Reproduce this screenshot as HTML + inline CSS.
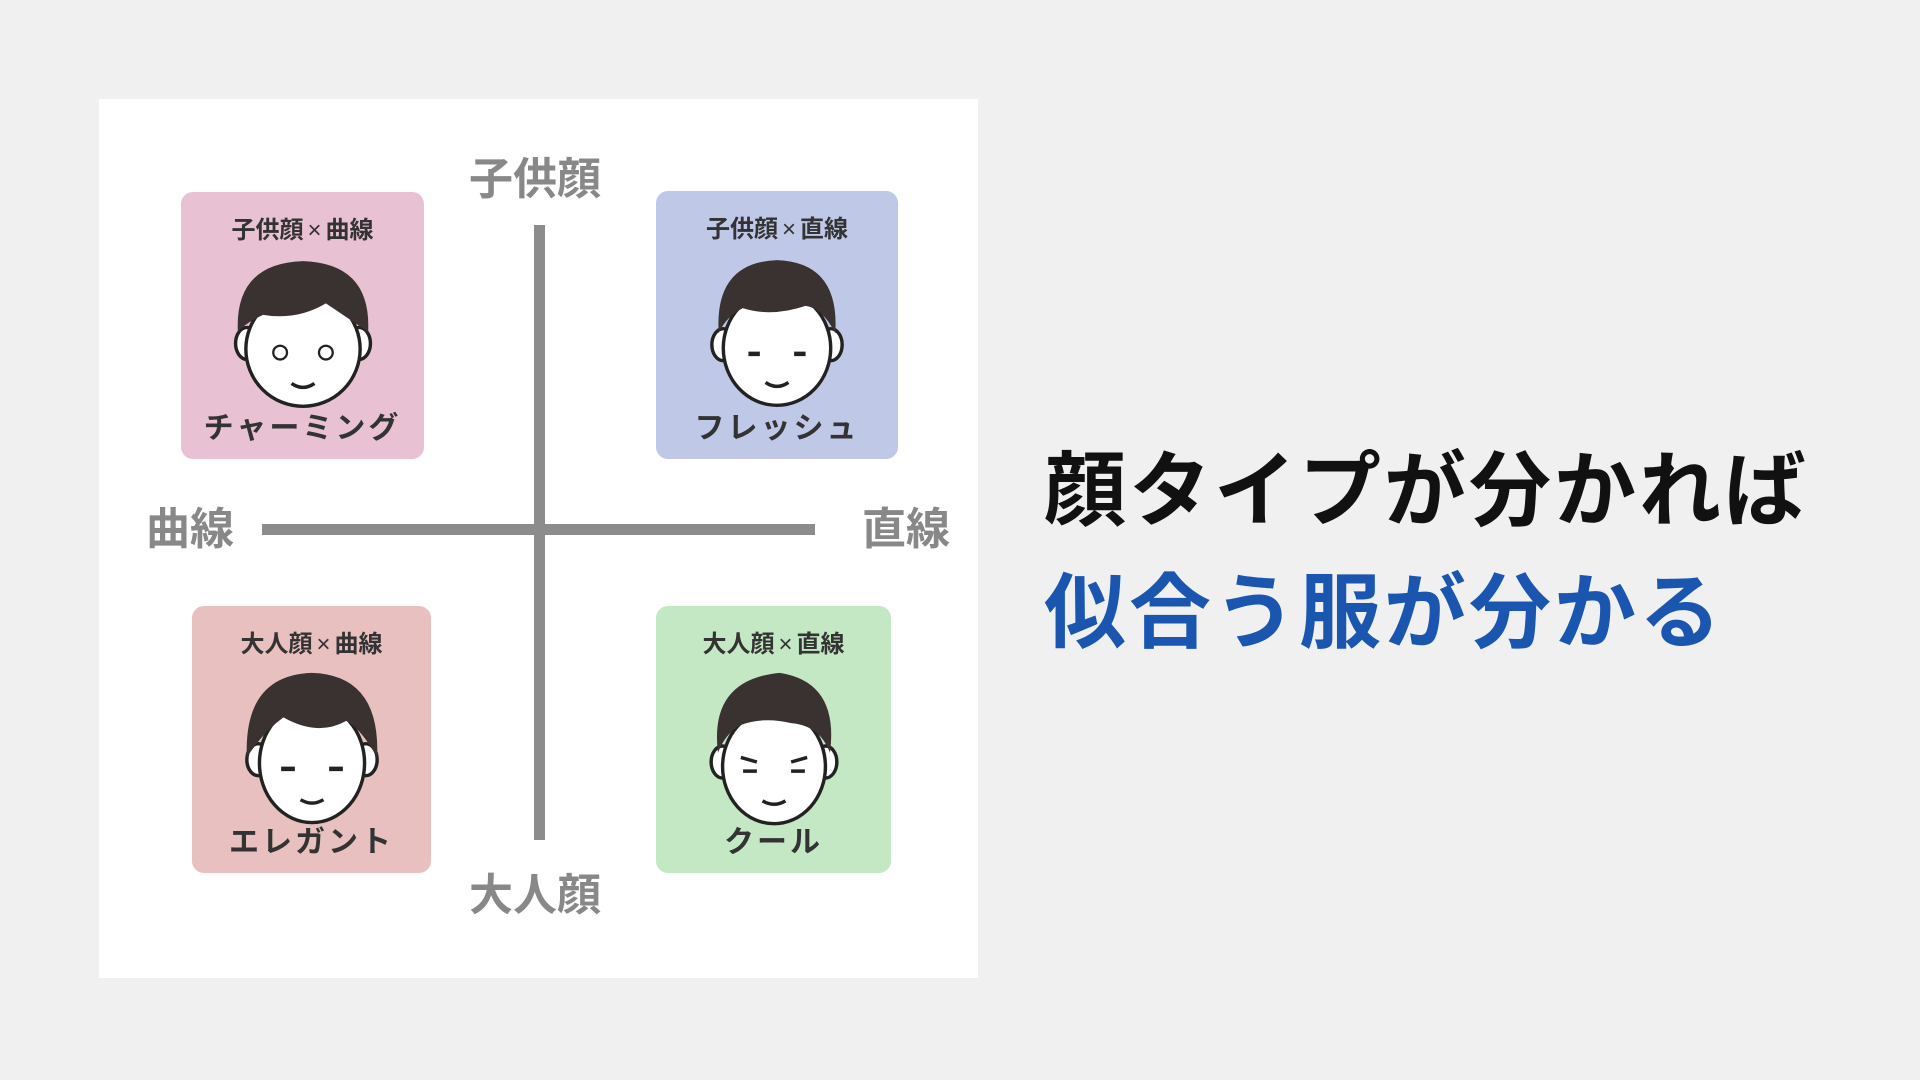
<!DOCTYPE html>
<html><head><meta charset="utf-8"><style>
*{margin:0;padding:0;box-sizing:border-box}
body{width:1920px;height:1080px;background:#f0f0f0;position:relative;overflow:hidden;font-family:"Liberation Sans","Noto Sans CJK JP",sans-serif}
.panel{position:absolute;left:99px;top:99px;width:879px;height:879px;background:#fff}
.card{position:absolute;border-radius:12px}
.card .t{position:absolute;left:0;right:0;top:18px;text-align:center;font-size:24px;font-weight:bold;color:#333}
.card .t span{font-weight:normal;margin:0 4px}
.card .n{position:absolute;left:0;right:0;bottom:12px;text-align:center;font-size:30px;font-weight:bold;color:#333;letter-spacing:3px}
.card svg{position:absolute;left:50%;top:60px;margin-left:-75px}
.ax{position:absolute;font-size:44px;font-weight:bold;color:#888;line-height:1}
.h{position:absolute;left:1044px;font-size:82px;font-weight:bold;line-height:1;letter-spacing:3px}
</style></head><body>
<div class="panel"></div>
<div style="position:absolute;left:534px;top:225px;width:11px;height:615px;background:#8c8c8c"></div>
<div style="position:absolute;left:262px;top:524px;width:553px;height:11px;background:#8c8c8c"></div>
<div class="ax" style="left:469px;top:158px">子供顔</div>
<div class="ax" style="left:469px;top:874px">大人顔</div>
<div class="ax" style="left:146px;top:508px">曲線</div>
<div class="ax" style="left:862px;top:508px">直線</div>

<div class="card" style="left:181px;top:192px;width:243px;height:267px;background:#e8c1d3">
<div class="t">子供顔<span>×</span>曲線</div>
<svg width="150" height="160" viewBox="0 0 130 140"><ellipse cx="16" cy="80" rx="10" ry="14" fill="#fff" stroke="#222" stroke-width="3"/><ellipse cx="114" cy="80" rx="10" ry="14" fill="#fff" stroke="#222" stroke-width="3"/><ellipse cx="65" cy="85" rx="50" ry="50" fill="#fff" stroke="#222" stroke-width="3"/><path d="M8 70 Q5 10 65 8 Q125 10 122 70 Q100 55 85 45 Q60 60 30 55 Q15 62 8 70Z" fill="#3a3131"/><circle cx="45" cy="88" r="6" fill="none" stroke="#222" stroke-width="2"/><circle cx="85" cy="88" r="6" fill="none" stroke="#222" stroke-width="2"/><path d="M55 115 Q65 122 75 115" stroke="#222" stroke-width="3" fill="none"/></svg>
<div class="n">チャーミング</div></div>

<div class="card" style="left:656px;top:191px;width:242px;height:268px;background:#c0c8e8">
<div class="t">子供顔<span>×</span>直線</div>
<svg width="150" height="160" viewBox="0 0 130 140"><ellipse cx="18" cy="82" rx="10" ry="14" fill="#fff" stroke="#222" stroke-width="3"/><ellipse cx="112" cy="82" rx="10" ry="14" fill="#fff" stroke="#222" stroke-width="3"/><ellipse cx="65" cy="85" rx="47" ry="50" fill="#fff" stroke="#222" stroke-width="3"/><path d="M14 72 Q10 10 65 8 Q120 10 116 72 Q105 50 90 48 Q60 58 35 50 Q20 58 14 72Z" fill="#3a3131"/><path d="M40 90 h10 M80 90 h10" stroke="#222" stroke-width="4"/><path d="M55 115 Q65 122 75 115" stroke="#222" stroke-width="3" fill="none"/></svg>
<div class="n">フレッシュ</div></div>

<div class="card" style="left:192px;top:606px;width:239px;height:267px;background:#e8c0c0">
<div class="t">大人顔<span>×</span>曲線</div>
<svg width="150" height="160" viewBox="0 0 130 140"><ellipse cx="18" cy="82" rx="10" ry="14" fill="#fff" stroke="#222" stroke-width="3"/><ellipse cx="112" cy="82" rx="10" ry="14" fill="#fff" stroke="#222" stroke-width="3"/><ellipse cx="65" cy="85" rx="46" ry="52" fill="#fff" stroke="#222" stroke-width="3"/><path d="M8 80 Q5 8 65 6 Q125 8 122 80 Q108 55 95 48 Q70 62 40 45 Q22 58 8 80Z" fill="#3a3131"/><path d="M38 90 h12 M80 90 h12" stroke="#222" stroke-width="4"/><path d="M55 117 Q65 123 75 117" stroke="#222" stroke-width="3" fill="none"/></svg>
<div class="n">エレガント</div></div>

<div class="card" style="left:656px;top:606px;width:235px;height:267px;background:#c4e8c4">
<div class="t">大人顔<span>×</span>直線</div>
<svg width="150" height="160" viewBox="0 0 130 140"><ellipse cx="20" cy="84" rx="10" ry="14" fill="#fff" stroke="#222" stroke-width="3"/><ellipse cx="110" cy="84" rx="10" ry="14" fill="#fff" stroke="#222" stroke-width="3"/><ellipse cx="65" cy="88" rx="45" ry="50" fill="#fff" stroke="#222" stroke-width="3"/><path d="M16 76 Q8 12 70 6 Q122 14 114 76 Q105 52 80 50 Q55 44 35 52 Q22 60 16 76Z" fill="#3a3131"/><path d="M38 92 h12 M80 92 h12 M36 80 L50 84 M94 80 L80 84" stroke="#222" stroke-width="3"/><path d="M55 118 Q65 124 75 118" stroke="#222" stroke-width="3" fill="none"/></svg>
<div class="n">クール</div></div>

<div class="h" style="top:451px;color:#111">顔タイプが分かれば</div>
<div class="h" style="top:573px;color:#1a56b0">似合う服が分かる</div>
</body></html>
